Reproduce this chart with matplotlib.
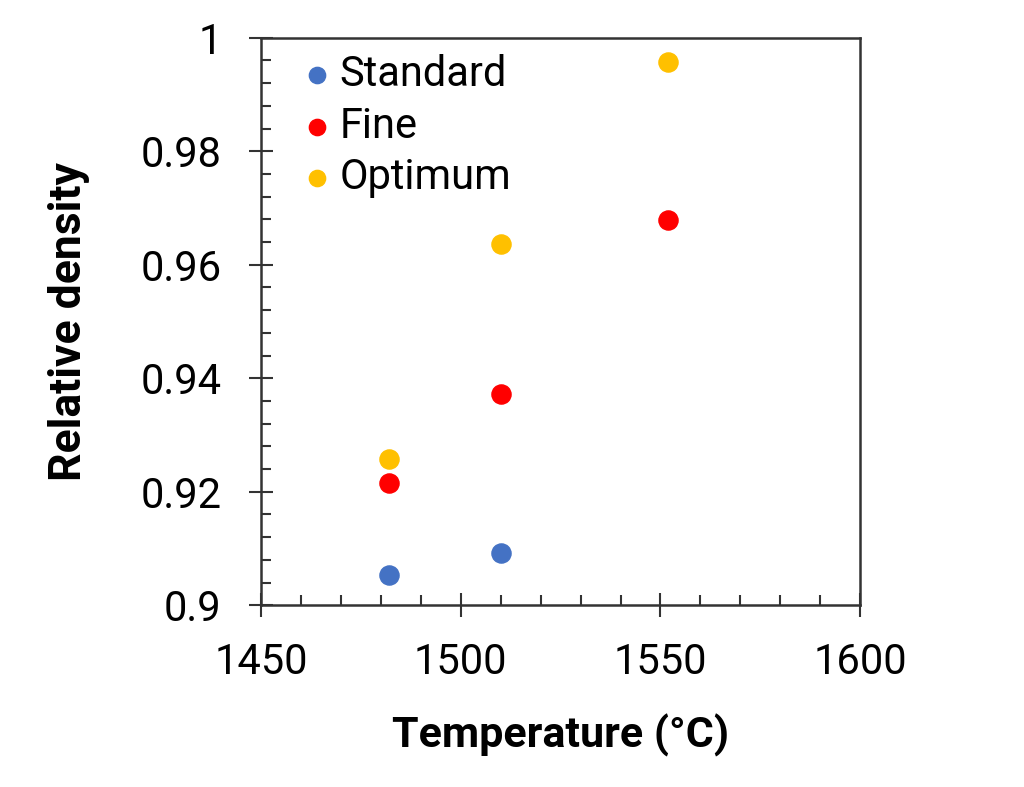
import matplotlib.pyplot as plt
from matplotlib.ticker import MultipleLocator

plt.rcParams['font.family'] = ['Roboto', 'DejaVu Sans']

# data
std_temp = [1482, 1510]
std_density = [0.9053, 0.9092]
fine_temp = [1482, 1510, 1552]
fine_density = [0.9216, 0.9372, 0.9678]
opt_temp = [1482, 1510, 1552]
opt_density = [0.9258, 0.9636, 0.9957]

fig = plt.figure(figsize=(10.24, 7.87), dpi=100)
ax = fig.add_axes([0.255, 0.231, 0.585, 0.721])

ax.scatter(std_temp, std_density, s=190, color='#4472C4', label='Standard', zorder=3)
ax.scatter(fine_temp, fine_density, s=190, color='#FF0000', label='Fine', zorder=3)
ax.scatter(opt_temp, opt_density, s=190, color='#FFC000', label='Optimum', zorder=3)

ax.set_xlim(1450, 1600)
ax.set_ylim(0.9, 1.0)
ax.xaxis.set_major_locator(MultipleLocator(50))
ax.xaxis.set_minor_locator(MultipleLocator(10))
ax.yaxis.set_major_locator(MultipleLocator(0.02))
ax.yaxis.set_minor_locator(MultipleLocator(0.004))
ax.yaxis.set_major_formatter(plt.FuncFormatter(lambda v, p: f'{v:.2f}'.rstrip('0').rstrip('.')))

ax.tick_params(which='major', direction='inout', length=17, width=1.5, labelsize=30, color='#333333')
ax.tick_params(axis='y', which='major', pad=20)
ax.tick_params(axis='x', which='major', pad=18)
ax.tick_params(which='minor', direction='in', length=7, width=1.5, color='#333333')
for s in ax.spines.values():
    s.set_linewidth(1.8)
    s.set_color('#333333')

ax.set_xlabel('Temperature (°C)', fontsize=31, fontweight='bold', labelpad=22)
ax.set_ylabel('Relative density', fontsize=32, fontweight='bold', labelpad=36)

ax.legend(loc='upper left', bbox_to_anchor=(0.058, 0.978), frameon=False, fontsize=30,
          handlelength=0.8, handletextpad=0.15, labelspacing=0.245,
          borderpad=0.1, borderaxespad=0, markerscale=0.85)

fig.savefig('out.png', dpi=100)
